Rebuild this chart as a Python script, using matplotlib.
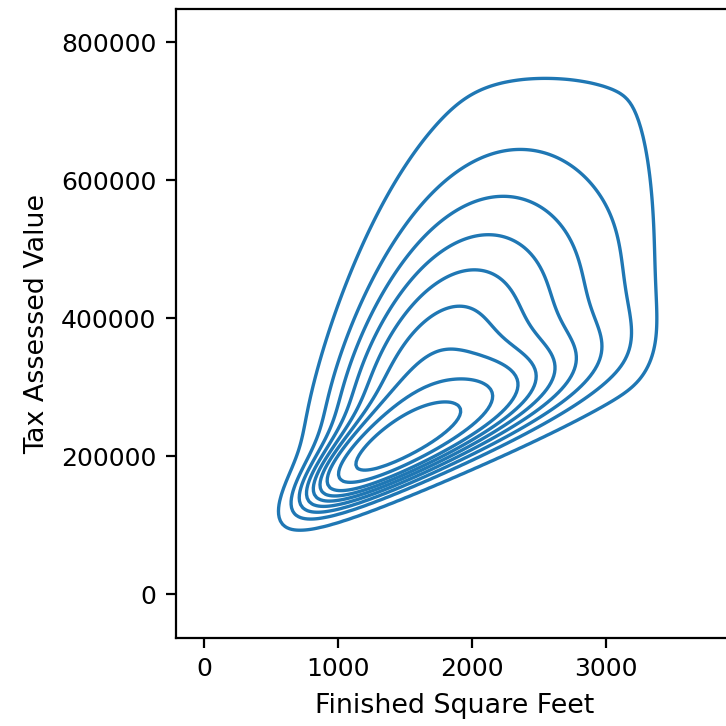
import numpy as np
import matplotlib
matplotlib.use("Agg")
import matplotlib.pyplot as plt

# Shape of the underlying distribution:
# log-normal parts (median sqft, median value, log-sd x, log-sd y, corr, weight)
part_med_x = [1650, 2100]
part_med_y = [230000, 420000]
part_lsx = [0.36, 0.38]
part_lsy = [0.26, 0.42]
part_rho = [0.86, 0.55]
part_w = [0.27, 0.73]
# lower edge of values per size: y_floor = floor_y0 * (x / floor_x0) ** floor_exp
floor_x0, floor_y0, floor_exp, floor_width = 1700, 190000, 0.62, 0.05
# data range kept (box) and kde bandwidth
box_x = [540, 3390]
box_y = [0, 775000]
bw_x, bw_y, bw_rho = 130, 30000, 0.6

iso_props = np.linspace(0.05, 1, 10)

x_ticks = [0, 1000, 2000, 3000]
y_ticks = [0, 200000, 400000, 600000, 800000]
x_label = "Finished Square Feet"
y_label = "Tax Assessed Value"

nx, ny = 420, 420
gx = np.linspace(-1500, 5500, nx)
gy = np.linspace(-400000, 1600000, ny)
ddx, ddy = gx[1] - gx[0], gy[1] - gy[0]
X, Y = np.meshgrid(gx, gy)
pos = (X > 0) & (Y > 0)
Xs = np.where(pos, X, 1.0)
Ys = np.where(pos, Y, 1.0)
D = np.zeros_like(X)
for mx, my, sx, sy, r, w in zip(part_med_x, part_med_y, part_lsx, part_lsy, part_rho, part_w):
    u = (np.log(Xs) - np.log(mx)) / sx
    v = (np.log(Ys) - np.log(my)) / sy
    q = (u**2 - 2 * r * u * v + v**2) / (1 - r**2)
    D += w * np.exp(-0.5 * q) / (2 * np.pi * sx * sy * np.sqrt(1 - r**2))
D /= Xs * Ys
yfloor = floor_y0 * (Xs / floor_x0) ** floor_exp
D *= 1.0 / (1.0 + np.exp(-(np.log(Ys) - np.log(yfloor)) / floor_width))
inbox = pos & (X >= box_x[0]) & (X <= box_x[1]) & (Y >= box_y[0]) & (Y <= box_y[1])
D = np.where(inbox, D, 0.0)

# smoothing kernel (kde bandwidth)
ox = (np.arange(nx) - nx // 2) * ddx
oy = (np.arange(ny) - ny // 2) * ddy
OX, OY = np.meshgrid(ox, oy)
a = OX / bw_x
b = OY / bw_y
K = np.exp(-0.5 * (a**2 - 2 * bw_rho * a * b + b**2) / (1 - bw_rho**2))
K /= K.sum()
Z = np.fft.irfft2(np.fft.rfft2(D) * np.fft.rfft2(np.fft.ifftshift(K)), s=D.shape)

vals = np.sort(Z.ravel())[::-1]
cum = np.cumsum(vals) / vals.sum()
idx = np.searchsorted(cum, 1 - iso_props)
levels = np.unique(np.take(vals, idx, mode="clip"))

fig = plt.figure(figsize=(3.63, 3.63), dpi=200)
ax = fig.add_axes([0.2424, 0.1212, 0.767, 0.8664])
ax.contour(X, Y, Z, levels=levels, colors="#1f77b4", linewidths=1.2)
ax.set_xlim(-209, 3948)
ax.set_ylim(-63768, 847826)
ax.set_xticks(x_ticks)
ax.set_yticks(y_ticks)
ax.set_xlabel(x_label, fontsize=9.7)
ax.set_ylabel(y_label, fontsize=9.7)
ax.tick_params(labelsize=9.0)
fig.savefig("out.png", dpi=200)
